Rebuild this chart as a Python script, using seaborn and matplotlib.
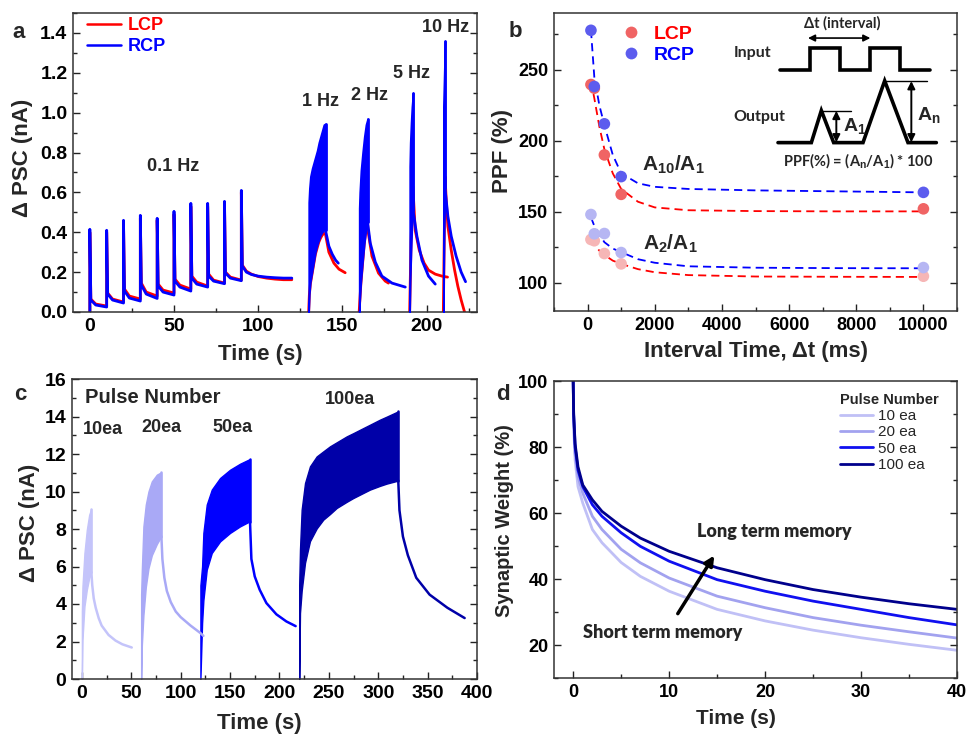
import matplotlib
matplotlib.use("Agg")
import matplotlib.pyplot as plt
import seaborn as sns
from matplotlib.ticker import MultipleLocator
from matplotlib.lines import Line2D

# ---------------- data: panel a (ΔPSC, LCP / RCP) ----------------
a_pulse_t = [0, 10, 20, 30, 40, 50, 60, 70, 80, 90]
a_lcp_peak = [0.40, 0.40, 0.45, 0.47, 0.46, 0.49, 0.53, 0.53, 0.54, 0.60]
a_rcp_peak = [0.415, 0.41, 0.46, 0.485, 0.47, 0.505, 0.545, 0.545, 0.555, 0.61]
a_lcp_after = [0.065, 0.095, 0.115, 0.145, 0.14, 0.165, 0.18, 0.19, 0.20]
a_lcp_mid = [0.04, 0.065, 0.08, 0.10, 0.11, 0.135, 0.15, 0.16, 0.175]
a_lcp_end = [0.03, 0.05, 0.065, 0.08, 0.095, 0.115, 0.13, 0.145, 0.16]
a_rcp_after = [0.06, 0.09, 0.105, 0.135, 0.13, 0.155, 0.17, 0.18, 0.195]
a_rcp_mid = [0.035, 0.06, 0.07, 0.09, 0.10, 0.125, 0.14, 0.155, 0.17]
a_rcp_end = [0.025, 0.045, 0.055, 0.068, 0.085, 0.105, 0.125, 0.142, 0.157]
a_tail_t = [90.6, 93, 96, 100, 105, 110, 115, 120]
a_rcp_tail = [0.23, 0.20, 0.188, 0.18, 0.175, 0.172, 0.17, 0.17]
a_lcp_tail = [0.235, 0.205, 0.19, 0.178, 0.17, 0.165, 0.162, 0.162]

# 1 Hz
a_b1_t = [130, 130.4, 131, 132, 133, 134, 135, 136, 137, 138, 139, 140]
a_b1_hi = [0.55, 0.62, 0.68, 0.72, 0.75, 0.78, 0.81, 0.85, 0.88, 0.91, 0.94, 0.945]
a_b1_lo = [0.0, 0.09, 0.15, 0.20, 0.25, 0.30, 0.335, 0.36, 0.385, 0.40, 0.41, 0.41]
a_b1d_t = [140, 142, 144, 146, 147.6]
a_b1d_v = [0.41, 0.33, 0.29, 0.26, 0.245]
a_r1_t = [130, 130.4, 131, 132, 133, 134, 135, 136, 137, 138, 139, 140, 142, 145, 148, 151.7]
a_r1_v = [0.0, 0.085, 0.14, 0.19, 0.24, 0.29, 0.32, 0.35, 0.37, 0.385, 0.395, 0.39, 0.30, 0.245, 0.215, 0.197]
# 2 Hz
a_b2_t = [160, 160.3, 161, 162, 163, 164, 165]
a_b2_hi = [0.52, 0.60, 0.71, 0.80, 0.88, 0.94, 0.97]
a_b2_lo = [0.0, 0.05, 0.15, 0.25, 0.34, 0.41, 0.44]
a_b2d_t = [165, 166.6, 169.6, 173.5, 179.5, 187.4]
a_b2d_v = [0.45, 0.345, 0.25, 0.18, 0.145, 0.125]
a_r2_t = [160, 160.3, 161, 162, 163, 164, 165, 165.2, 167.6, 171.5, 175.5, 177.4]
a_r2_v = [0.0, 0.045, 0.14, 0.24, 0.34, 0.41, 0.45, 0.41, 0.28, 0.195, 0.155, 0.145]
# 5 Hz
a_b5_t = [190, 190.3, 190.8, 191.3, 192]
a_b5_hi = [0.73, 0.85, 0.95, 1.03, 1.10]
a_b5_lo = [0.0, 0.15, 0.30, 0.42, 0.50]
a_b5d_t = [192, 194.3, 197.3, 201.2, 205.2]
a_b5d_v = [0.51, 0.38, 0.26, 0.18, 0.14]
a_r5_t = [190, 190.8, 191.9, 193.3, 195.7, 198.6, 201.2, 205.2, 209.2, 212.5]
a_r5_v = [0.0, 0.35, 0.63, 0.41, 0.31, 0.245, 0.21, 0.19, 0.18, 0.175]
# 10 Hz
a_b10_t = [210, 210.5, 211]
a_b10_hi = [1.03, 1.20, 1.36]
a_b10_lo = [0.0, 0.40, 0.60]
a_b10d_t = [211, 212.7, 214.7, 217.6, 220.6, 223.2]
a_b10d_v = [0.62, 0.48, 0.38, 0.28, 0.20, 0.152]
a_r10_t = [210, 211, 211.8, 212.7, 214.7, 216.7, 218.6, 220.6, 222.6]
a_r10_v = [0.0, 0.68, 0.55, 0.43, 0.31, 0.21, 0.13, 0.06, 0.0]
a_freq_labels = ["0.1 Hz", "1 Hz", "2 Hz", "5 Hz", "10 Hz"]

# ---------------- data: panel b (PPF) ----------------
b_t = [100, 200, 500, 1000, 10000]
b_lcp_10 = [239.6, 237, 190, 162.2, 152]
b_rcp_10 = [277.8, 238.2, 211.9, 174.7, 163.6]
b_lcp_2 = [130.4, 129.5, 120.5, 113.2, 104.5]
b_rcp_2 = [148, 134.4, 134.6, 121.2, 110.6]
b_fit_t = [100, 200, 350, 500, 750, 1000, 1500, 2000, 3000, 5000, 7500, 10000]
b_rcp_10_fit = [278, 245, 225, 211, 190, 177, 170, 167.5, 166, 165, 164.3, 163.6]
b_lcp_10_fit = [242, 230, 210, 194, 177, 166, 157, 153, 151, 150.4, 150.2, 150.2]
b_rcp_2_fit = [146, 140, 134, 128.5, 124, 121.5, 116.5, 114, 111.5, 110.5, 110.2, 110.1]
b_lcp_2_fit = [131, 127, 122.5, 119.5, 115.5, 113.2, 109.5, 107.3, 105.3, 104.3, 104.1, 104]

# ---------------- data: panel c (pulse number) ----------------
c_labels = ["10ea", "20ea", "50ea", "100ea"]
c10_t = [0, 0.6, 2.6, 5.0, 7.4, 9.4]
c10_hi = [3.6, 4.94, 6.72, 7.96, 8.76, 9.07]
c10_lo = [0.0, 2.10, 3.87, 4.76, 5.39, 5.65]
c10d_t = [9.6, 10.5, 12, 14, 17, 20, 27, 34, 41, 50.5]
c10d_v = [5.7, 5.0, 4.3, 3.8, 3.25, 2.85, 2.35, 2.05, 1.85, 1.68]
c20_t = [60, 60.7, 62.3, 64.7, 67.4, 70.8, 75.9, 80.2]
c20_hi = [4.5, 5.83, 8.14, 9.30, 10.0, 10.54, 10.9, 11.02]
c20_lo = [0.0, 1.8, 3.4, 4.9, 5.9, 6.6, 7.2, 7.6]
c20d_t = [80.5, 81.5, 83.5, 86, 90, 95, 100, 110, 120, 123]
c20d_v = [7.6, 6.4, 5.4, 4.7, 4.1, 3.6, 3.3, 2.85, 2.45, 2.3]
c50_t = [120, 121.7, 123.0, 126.4, 131.5, 139.9, 150.0, 160.1, 170.0]
c50_hi = [5.0, 6.0, 7.79, 9.30, 10.1, 10.72, 11.16, 11.48, 11.73]
c50_lo = [0.0, 2.99, 4.2, 5.83, 6.72, 7.34, 7.79, 8.14, 8.41]
c50d_t = [170.2, 171.6, 175, 180, 186.8, 196.9, 207, 216.4]
c50d_v = [8.4, 6.4, 5.47, 4.76, 4.05, 3.45, 3.07, 2.82]
c100_t = [220, 220.8, 222.5, 225.9, 230.9, 237.7, 244.4, 251.2, 257.9, 268.1, 274.7,
          284.8, 291.6, 301.7, 308.5, 320]
c100_hi = [5.0, 6.90, 9.03, 10.45, 11.34, 11.87, 12.14, 12.41, 12.62, 12.94, 13.11,
           13.38, 13.56, 13.83, 13.99, 14.27]
c100_lo = [0.0, 3.52, 4.7, 6.2, 7.35, 8.03, 8.50, 8.8, 9.12, 9.45, 9.65,
           9.92, 10.10, 10.3, 10.42, 10.58]
c100d_t = [320.3, 321.5, 325, 330, 338.5, 352, 370, 387.5]
c100d_v = [10.58, 9.0, 7.6, 6.6, 5.4, 4.5, 3.8, 3.25]

# ---------------- data: panel d (synaptic weight) ----------------
d_t = [0, 0.05, 0.2, 0.5, 1, 2, 3, 5, 7, 10, 15, 20, 25, 30, 35, 40]
d_10 = [100, 86, 76, 68, 63, 55, 51, 45, 40.8, 36.3, 30.8, 27.3, 24.5, 22.2, 20.2, 18.4]
d_20 = [100, 88, 78, 71, 66, 59, 55, 49, 44.9, 40.3, 34.8, 31.3, 28.3, 26.0, 24.0, 22.1]
d_50 = [100, 90, 80, 73, 68, 62.5, 59, 54, 49.9, 45.4, 39.8, 36.3, 33.3, 30.8, 28.3, 26.1]
d_100 = [100, 90, 81, 74, 68.5, 64, 60.5, 56, 52.4, 48.4, 43.4, 39.8, 36.8, 34.5, 32.5, 30.8]
d_labels = ["10 ea", "20 ea", "50 ea", "100 ea"]

# ---------------- style ----------------
sns.set_style("ticks")
plt.rcParams['font.family'] = ['Liberation Sans', 'DejaVu Sans']
plt.rcParams['font.weight'] = 'bold'
plt.rcParams['axes.labelweight'] = 'bold'
plt.rcParams['mathtext.fontset'] = 'custom'
plt.rcParams['mathtext.rm'] = 'Liberation Sans:bold'
plt.rcParams['mathtext.it'] = 'Liberation Sans:bold'
plt.rcParams['mathtext.bf'] = 'Liberation Sans:bold'
plt.rcParams['mathtext.default'] = 'bf'

RED = '#ff0000'
BLUE = '#0000ff'
CAL = ['Lato', 'DejaVu Sans']

W, H = 967, 735
fig = plt.figure(figsize=(9.67, 7.35), dpi=100)


def axes_px(l, t, r, b):
    return fig.add_axes([l / W, 1 - b / H, (r - l) / W, (b - t) / H])


def style(ax, xmaj, xmin, ymaj, ymin, fs):
    ax.xaxis.set_major_locator(MultipleLocator(xmaj))
    ax.xaxis.set_minor_locator(MultipleLocator(xmin))
    ax.yaxis.set_major_locator(MultipleLocator(ymaj))
    ax.yaxis.set_minor_locator(MultipleLocator(ymin))
    ax.tick_params(which='both', direction='in', right=True, top=False,
                   labelsize=fs, width=1.0, colors='#222222', labelcolor='black')
    ax.tick_params(which='major', length=5, pad=4)
    ax.tick_params(which='minor', length=3)
    for s in ax.spines.values():
        s.set_linewidth(1.1)
        s.set_color('#333333')
        s.set_visible(True)


def sline(ax, x, y, color, lw=1.8, **kw):
    sns.lineplot(x=x, y=y, ax=ax, color=color, lw=lw, sort=False,
                 estimator=None, legend=False, **kw)


ax_a = axes_px(73, 13, 477, 312)
ax_b = axes_px(554, 13, 957, 311)
ax_c = axes_px(72, 379, 477, 679)
ax_d = axes_px(554, 381, 957, 678)

# ================= panel a =================
def trace01(peak, after, mid, end, tail_v):
    t = [0.0]
    v = [0.0]
    for i, tp in enumerate(a_pulse_t):
        t.append(tp)
        v.append(peak[i])
        if i < len(after):
            t += [tp + 0.6, tp + 3.5, tp + 10]
            v += [after[i], mid[i], end[i]]
    t += a_tail_t
    v += tail_v
    return t, v

lt, lv = trace01(a_lcp_peak, a_lcp_after, a_lcp_mid, a_lcp_end, a_lcp_tail)
rt, rv = trace01(a_rcp_peak, a_rcp_after, a_rcp_mid, a_rcp_end, a_rcp_tail)
sline(ax_a, lt, lv, RED, lw=2.0)
sline(ax_a, rt, rv, BLUE, lw=2.0)

for t_, v_ in [(a_r1_t, a_r1_v), (a_r2_t, a_r2_v), (a_r5_t, a_r5_v), (a_r10_t, a_r10_v)]:
    sline(ax_a, t_, v_, RED, lw=2.0)
for (tt, lo, hi, dt, dv) in [(a_b1_t, a_b1_lo, a_b1_hi, a_b1d_t, a_b1d_v),
                             (a_b2_t, a_b2_lo, a_b2_hi, a_b2d_t, a_b2d_v),
                             (a_b5_t, a_b5_lo, a_b5_hi, a_b5d_t, a_b5d_v),
                             (a_b10_t, a_b10_lo, a_b10_hi, a_b10d_t, a_b10d_v)]:
    ax_a.fill_between(tt, lo, hi, color=BLUE, lw=1.2, edgecolor=BLUE, zorder=3)
    sline(ax_a, [tt[-1], tt[-1]], [hi[-1], dv[0]], BLUE, lw=2.0, zorder=3)
    sline(ax_a, dt, dv, BLUE, lw=2.0, zorder=3)

ax_a.set_xlim(-10, 230)
ax_a.set_ylim(0, 1.5)
style(ax_a, 50, 25, 0.2, 0.1, 14)
ax_a.set_xlabel('Time (s)', fontsize=16)
ax_a.set_ylabel('Δ PSC (nA)', fontsize=16)
ax_a.xaxis.set_label_coords(0.463, -0.107)
ax_a.yaxis.set_label_coords(-0.099, 0.515)

a_lab_pos = [(49.3, 0.729), (137.2, 1.055), (165.9, 1.085), (190.8, 1.196), (211.6, 1.427)]
for lab, (x, y) in zip(a_freq_labels, a_lab_pos):
    ax_a.text(x, y, lab, fontsize=13, ha='center', va='center')

leg_a = ax_a.legend(handles=[Line2D([], [], color=RED, lw=1.8),
                             Line2D([], [], color=BLUE, lw=1.8)],
                    labels=['LCP', 'RCP'], loc='upper left',
                    bbox_to_anchor=(0.035, 0.985), frameon=False, fontsize=13,
                    handlelength=1.9, handletextpad=0.35, labelspacing=0.2,
                    borderpad=0, borderaxespad=0)
for txt, c in zip(leg_a.get_texts(), [RED, BLUE]):
    txt.set_color(c)

# ================= panel b =================
dash = (0, (4.5, 2.8))
sline(ax_b, b_fit_t, b_rcp_10_fit, BLUE, lw=1.3, linestyle=dash)
sline(ax_b, b_fit_t, b_lcp_10_fit, RED, lw=1.3, linestyle=dash)
sline(ax_b, b_fit_t, b_rcp_2_fit, BLUE, lw=1.3, linestyle=dash)
sline(ax_b, b_fit_t, b_lcp_2_fit, RED, lw=1.3, linestyle=dash)
pt_red, pt_blue = '#f06464', '#5c5cee'
pt_red2, pt_blue2 = '#f6b6b6', '#b6b6f3'
for yv, c in [(b_lcp_10, pt_red), (b_rcp_10, pt_blue), (b_lcp_2, pt_red2), (b_rcp_2, pt_blue2)]:
    sns.scatterplot(x=b_t, y=yv, ax=ax_b, color=c, s=70, edgecolor='none',
                    legend=False, zorder=4)
ax_b.set_xlim(-1000, 11000)
ax_b.set_ylim(80, 290)
style(ax_b, 2000, 1000, 50, 25, 13)
ax_b.set_xlabel('Interval Time, Δt (ms)', fontsize=16)
ax_b.set_ylabel('PPF (%)', fontsize=16)
ax_b.xaxis.set_label_coords(0.50, -0.10)
ax_b.yaxis.set_label_coords(-0.102, 0.537)
ax_b.text(1615, 183, r'$A_{10}/A_{1}$', fontsize=15, ha='left', va='center')
ax_b.text(1645, 127.6, r'$A_{2}/A_{1}$', fontsize=15, ha='left', va='center')

leg_b = ax_b.legend(handles=[Line2D([], [], ls='none', marker='o', ms=8.5, color=pt_red, mec='none'),
                             Line2D([], [], ls='none', marker='o', ms=8.5, color=pt_blue, mec='none')],
                    labels=['LCP', 'RCP'], loc='upper left', bbox_to_anchor=(0.168, 0.958),
                    frameon=False, fontsize=14, handlelength=1.0, handletextpad=0.65,
                    labelspacing=0.15, borderpad=0, borderaxespad=0)
for txt, c in zip(leg_b.get_texts(), [RED, BLUE]):
    txt.set_color(c)

# schematic overlay (pixel-like coordinates of the inset drawing)
ov = ax_b.inset_axes([0, 0, 1, 1])
ov.set_xlim(223, 1432)
ov.set_ylim(932, 40)
ov.axis('off')
ov.patch.set_alpha(0)
ov.plot([900, 990, 990, 1080, 1080, 1170, 1170, 1262, 1262, 1350],
        [210, 210, 145, 145, 210, 210, 145, 145, 210, 210], color='black', lw=2.6,
        solid_joinstyle='miter')
ov.plot([895, 995, 1025, 1062, 1150, 1215, 1285, 1370],
        [428, 428, 332, 428, 428, 243, 428, 428], color='black', lw=2.6,
        solid_joinstyle='miter')
ov.plot([1025, 1115], [332, 332], color='black', lw=1.0)
ov.plot([1215, 1343], [243, 243], color='black', lw=1.0)
ov.annotate('', xy=(985, 115), xytext=(1172, 115),
            arrowprops=dict(arrowstyle='<|-|>', lw=1.2, color='black', mutation_scale=10,
                            shrinkA=0, shrinkB=0))
ov.annotate('', xy=(1070, 333), xytext=(1070, 427),
            arrowprops=dict(arrowstyle='<|-|>', lw=1.4, color='black', mutation_scale=11,
                            shrinkA=0, shrinkB=0))
ov.annotate('', xy=(1295, 244), xytext=(1295, 427),
            arrowprops=dict(arrowstyle='<|-|>', lw=1.4, color='black', mutation_scale=11,
                            shrinkA=0, shrinkB=0))
ov.text(1088, 72, 'Δt (interval)', fontsize=10.5, ha='center', va='center', family=CAL)
ov.text(820, 160, 'Input', fontsize=11.5, ha='center', va='center', family=CAL)
ov.text(840, 350, 'Output', fontsize=11.5, ha='center', va='center', family=CAL)
ov.text(1090, 378, r'$A_1$', fontsize=14, ha='left', va='center')
ov.text(1312, 345, r'$A_n$', fontsize=14, ha='left', va='center')
ov.text(1135, 482, r'PPF(%) = (A$_n$/A$_1$) * 100', fontsize=10.5, ha='center',
        va='center', family=CAL)

# ================= panel c =================
c_colors = ['#c4c4fa', '#a9a9f6', '#0000ff', '#0000a8']
c_sets = [(c10_t, c10_lo, c10_hi, c10d_t, c10d_v),
          (c20_t, c20_lo, c20_hi, c20d_t, c20d_v),
          (c50_t, c50_lo, c50_hi, c50d_t, c50d_v),
          (c100_t, c100_lo, c100_hi, c100d_t, c100d_v)]
for col, (tt, lo, hi, dt, dv) in zip(c_colors, c_sets):
    ax_c.fill_between(tt, lo, hi, color=col, lw=1.0, edgecolor=col)
    sline(ax_c, [tt[-1], tt[-1]], [hi[-1], dv[0]], col, lw=1.8)
    sline(ax_c, dt, dv, col, lw=1.8)
ax_c.set_xlim(-10, 400)
ax_c.set_ylim(0, 16)
style(ax_c, 50, 25, 2, 1, 14)
ax_c.set_xlabel('Time (s)', fontsize=16)
ax_c.set_ylabel('Δ PSC (nA)', fontsize=16)
ax_c.xaxis.set_label_coords(0.462, -0.113)
ax_c.yaxis.set_label_coords(-0.079, 0.52)
ax_c.text(71.6, 15.0, 'Pulse Number', fontsize=14.5, ha='center', va='center')
c_lab_pos = [(21, 13.3), (80.2, 13.4), (152.5, 13.4), (271.9, 14.9)]
for lab, (x, y) in zip(c_labels, c_lab_pos):
    ax_c.text(x, y, lab, fontsize=13, ha='center', va='center')

# ================= panel d =================
d_colors = ['#c0c0f6', '#a2a2ef', '#1010f0', '#00008c']
for col, yv, lab in zip(d_colors, [d_10, d_20, d_50, d_100], d_labels):
    sns.lineplot(x=d_t, y=yv, ax=ax_d, color=col, lw=2.0, sort=False,
                 estimator=None, label=lab)
ax_d.set_xlim(-2, 40)
ax_d.set_ylim(10, 100)
style(ax_d, 10, 5, 20, 10, 13)
ax_d.set_xlabel('Time (s)', fontsize=15)
ax_d.set_ylabel('Synaptic Weight (%)', fontsize=14.5)
ax_d.xaxis.set_label_coords(0.452, -0.104)
ax_d.yaxis.set_label_coords(-0.10, 0.53)
leg_d = ax_d.legend(loc='upper left', bbox_to_anchor=(0.71, 0.96), frameon=False,
                    title='Pulse Number', fontsize=11, handlelength=2.15,
                    handletextpad=0.3, labelspacing=0.15, borderpad=0, borderaxespad=0,
                    prop={'weight': 'normal', 'size': 11},
                    title_fontproperties={'weight': 'bold', 'size': 10.5})
leg_d._legend_box.align = 'left'
ax_d.text(12.9, 54.4, 'Long term memory', fontsize=13, ha='left', va='center',
          family=CAL, weight='heavy')
ax_d.text(1.04, 23.9, 'Short term memory', fontsize=13, ha='left', va='center',
          family=CAL, weight='heavy')
ax_d.annotate('', xy=(14.7, 47.1), xytext=(10.9, 29.5),
              arrowprops=dict(arrowstyle='-|>', lw=2.5, color='black',
                              mutation_scale=14, shrinkA=0, shrinkB=0))

# panel letters
for lab, x, y in [('a', 19, 38), ('b', 515, 37), ('c', 20, 400), ('d', 503, 400)]:
    fig.text(x / W, 1 - y / H, lab, fontsize=16, ha='center', va='baseline')

fig.savefig('out.png', dpi=100)
